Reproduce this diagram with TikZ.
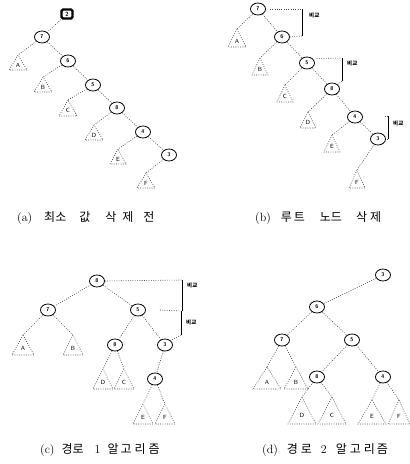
\documentclass[tikz,border=0pt]{standalone}
\usepackage{fontspec}
\newfontfamily\cjk{Noto Sans CJK KR}
\usetikzlibrary{shapes.geometric,calc}

\tikzset{
  kn/.style={ellipse, draw, line width=0.8pt, minimum width=15pt, minimum height=12pt,
             inner sep=0pt, font=\sffamily\bfseries\fontsize{5.5}{5.5}\selectfont},
  minbox/.style={rectangle, rounded corners=1.5pt, draw, line width=2.2pt, minimum width=11pt,
             minimum height=9pt, inner sep=0pt, font=\sffamily\bfseries\fontsize{6}{6}\selectfont},
  edge/.style={dash pattern=on 0.9pt off 1.4pt, line width=0.6pt, black!70},
  subtree/.style={dash pattern=on 0.9pt off 1.4pt, line width=0.6pt, black!70},
  tlabel/.style={font=\sffamily\fontsize{6}{6}\selectfont, inner sep=0pt},
  bar/.style={line width=0.8pt},
  cmp/.style={font=\cjk\bfseries\fontsize{5.5}{5.5}\selectfont, anchor=west, inner sep=0pt},
  caption/.style={font=\fontsize{12}{12}\selectfont, inner sep=0pt, anchor=west},
}

% subtree triangle: name, apex x, apex y, half width, height, label
\newcommand\subtr[6]{%
  \coordinate (#1) at (#2,#3);
  \draw[subtree] (#1) -- ++(-#4,#5) -- ++({2*#4},0) -- cycle;
  \node[tlabel] at ($(#1)+(0,{0.68*#5})$) {#6};}

\begin{document}
\begin{tikzpicture}[x=1pt,y=-1pt]
\useasboundingbox (0,0) rectangle (410,464);

% ---------------- (a) ----------------
\node[minbox] (a2) at (67,14) {2};
\node[kn] (a7) at (42,37) {7};
\node[kn] (a6) at (68,61) {6};
\node[kn] (a5) at (93,85) {5};
\node[kn] (a8) at (117,108) {8};
\node[kn] (a4) at (143,132) {4};
\node[kn] (a3) at (169,155) {3};
\subtr{aA}{18}{55}{9}{15}{A}
\subtr{aB}{43}{77}{9}{15}{B}
\subtr{aC}{68}{100}{9}{16}{C}
\subtr{aD}{94}{125}{9}{15}{D}
\subtr{aE}{118}{149}{8}{15}{E}
\subtr{aF}{146}{173}{9}{15}{F}
\draw[edge] (a2) -- (a7);
\draw[edge] (a7) -- (aA);
\draw[edge] (a7) -- (a6);
\draw[edge] (a6) -- (aB);
\draw[edge] (a6) -- (a5);
\draw[edge] (a5) -- (aC);
\draw[edge] (a5) -- (a8);
\draw[edge] (a8) -- (aD);
\draw[edge] (a8) -- (a4);
\draw[edge] (a4) -- (aE);
\draw[edge] (a4) -- (a3);
\draw[edge] (a3) -- (aF);
\node[caption] (capa) at (17,218)
  {(a)\hspace{12pt}{\cjk 최소\hspace{13pt}값\hspace{15pt}삭\hspace{6pt}제\hspace{10pt}전}};

% ---------------- (b) ----------------
\node[kn] (b7) at (258,9) {7};
\node[kn] (b6) at (282,37) {6};
\node[kn] (b5) at (307,63) {5};
\node[kn] (b8) at (332,89) {8};
\node[kn] (b4) at (355,117) {4};
\node[kn] (b3) at (378,139) {3};
\subtr{bA}{237}{29}{9}{18}{A}
\subtr{bB}{260}{58}{8}{17}{B}
\subtr{bC}{285}{85}{8}{17}{C}
\subtr{bD}{308}{112}{8}{16}{D}
\subtr{bE}{332}{135}{8}{17}{E}
\subtr{bF}{357}{170}{8}{18}{F}
\draw[edge] (b7) -- (bA);
\draw[edge] (b7) -- (b6);
\draw[edge] (b6) -- (bB);
\draw[edge] (b6) -- (b5);
\draw[edge] (b5) -- (bC);
\draw[edge] (b5) -- (b8);
\draw[edge] (b8) -- (bD);
\draw[edge] (b8) -- (b4);
\draw[edge] (b4) -- (bE);
\draw[edge] (b4) -- (b3);
\draw[edge] (b3) -- (bF);
% comparison brackets
\coordinate (bk1t) at (302,9);
\coordinate (bk1b) at (302,36);
\draw[edge] (b7.east) ++(4,0) -- (bk1t);
\draw[bar] (bk1t) -- (bk1b);
\draw[edge] (bk1b) -- (b6.east);
\node[cmp] (cmp1) at (309,15) {비교};
\coordinate (bk2t) at (342,58);
\coordinate (bk2b) at (342,81);
\draw[edge] (b5.north east) ++(4,0) -- (bk2t);
\draw[bar] (bk2t) -- (bk2b);
\draw[edge] (bk2b) -- (b8.north east);
\node[cmp] (cmp2) at (347,63) {비교};
\coordinate (bk3t) at (388,116);
\coordinate (bk3b) at (388,139);
\draw[edge] (b4.east) ++(22,-1) -- (bk3t);
\draw[bar] (bk3t) -- (bk3b);
\draw[edge] (bk3b) -- (b3.east);
\node[cmp] (cmp3) at (393,123) {비교};
\node[caption] (capb) at (255,218)
  {(b)\hspace{10pt}{\cjk 루\hspace{2pt}트\hspace{15pt}노드\hspace{14pt}삭\hspace{3pt}제}};

% ---------------- (c) ----------------
\node[kn] (c8) at (97,281) {8};
\node[kn] (c7) at (48,310) {7};
\node[kn] (c5) at (138,310) {5};
\node[kn] (c8b) at (115,345) {8};
\node[kn] (c3) at (165,345) {3};
\node[kn] (c4) at (155,379) {4};
\subtr{cA}{23}{335}{11}{20}{A}
\subtr{cB}{73}{335}{10}{20}{B}
\subtr{cD}{103}{369}{10}{20}{D}
\subtr{cC}{124}{369}{10}{20}{C}
\subtr{cE}{143}{404}{10}{20}{E}
\subtr{cF}{165}{404}{10}{20}{F}
\draw[edge] (c8) -- (c7);
\draw[edge] (c8) -- (c5);
\draw[edge] (c7) -- (cA);
\draw[edge] (c7) -- (cB);
\draw[edge] (c5) -- (c8b);
\draw[edge] (c5) -- (c3);
\draw[edge] (c8b) -- (cD);
\draw[edge] (c8b) -- (cC);
\draw[edge] (c3) -- (c4);
\draw[edge] (c4) -- (cE);
\draw[edge] (c4) -- (cF);
\coordinate (ck1t) at (182,280);
\coordinate (ck1b) at (182,311);
\coordinate (ck2t) at (181,311);
\coordinate (ck2b) at (181,335);
\draw[edge] (c8.east) -- (ck1t);
\draw[bar] (ck1t) -- (ck1b);
\draw[edge] (c5.east) ++(14,0) -- (ck2t);
\draw[bar] (ck2t) -- (ck2b);
\draw[edge] (ck2b) -- (c3.north east);
\node[cmp] (cmp4) at (187,285) {비교};
\node[cmp] (cmp5) at (186,322) {비교};
\node[caption] (capc) at (40,450)
  {(c)\hspace{7pt}{\cjk 경로}\hspace{11pt}1\hspace{7pt}{\cjk 알\hspace{2pt}고\hspace{3pt}리\hspace{3pt}즘}};

% ---------------- (d) ----------------
\node[kn] (d3) at (383,275) {3};
\node[kn] (d6) at (317,307) {6};
\node[kn] (d7) at (282,340) {7};
\node[kn] (d5) at (352,340) {5};
\node[kn] (d8) at (317,377) {8};
\node[kn] (d4) at (383,377) {4};
\subtr{dA}{267}{367}{14}{22}{A}
\subtr{dB}{296}{367}{12}{22}{B}
\subtr{dD}{302}{397}{14}{27}{D}
\subtr{dC}{332}{397}{14}{27}{C}
\subtr{dE}{372}{400}{14}{24}{E}
\subtr{dF}{399}{400}{11}{24}{F}
\draw[edge] (d3) -- (d6);
\draw[edge] (d6) -- (d7);
\draw[edge] (d6) -- (d5);
\draw[edge] (d7) -- (dA);
\draw[edge] (d7) -- (dB);
\draw[edge] (d5) -- (d8);
\draw[edge] (d5) -- (d4);
\draw[edge] (d8) -- (dD);
\draw[edge] (d8) -- (dC);
\draw[edge] (d4) -- (dE);
\draw[edge] (d4) -- (dF);
\node[caption] (capd) at (262,450)
  {(d)\hspace{9pt}{\cjk 경\hspace{3pt}로}\hspace{9pt}2\hspace{9pt}{\cjk 알\hspace{3pt}고\hspace{3pt}리\hspace{2pt}즘}};
\end{tikzpicture}
\end{document}
